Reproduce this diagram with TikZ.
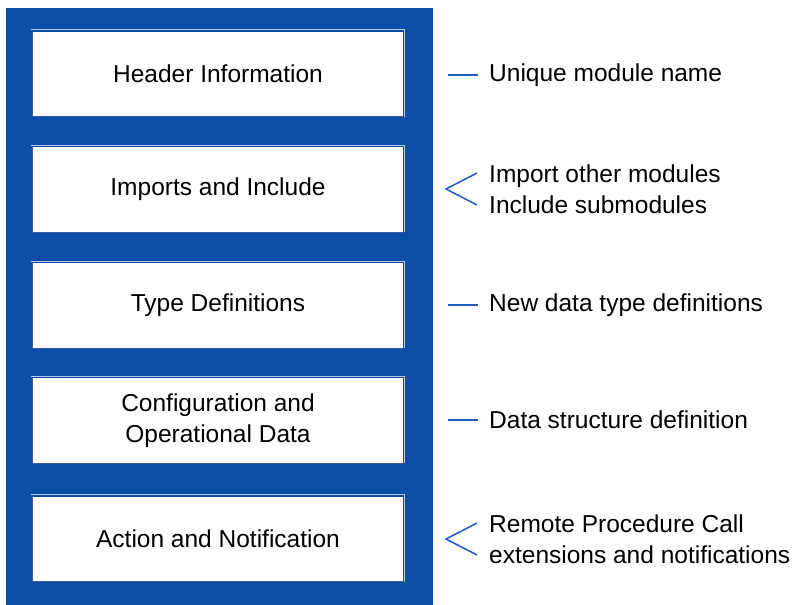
\documentclass[tikz,border=0pt]{standalone}
\usepackage{fontspec}
\setmainfont{Liberation Sans}
\definecolor{moduleblue}{HTML}{0B4EA8}
\definecolor{lightedge}{HTML}{B9C8E6}
\definecolor{darkedge}{HTML}{3B5C9F}
\definecolor{markblue}{HTML}{1E5EB8}
\tikzset{
  part/.style={fill=white, inner sep=0pt, minimum width=370pt, minimum height=85pt, align=center, font=\fontsize{24.5}{31}\selectfont},
  note/.style={anchor=west, align=left, inner sep=0pt, font=\fontsize{24.5}{31}\selectfont},
  notemark/.style={draw=markblue, line width=1.5pt},
}
\begin{document}
\begin{tikzpicture}[x=1pt,y=-1pt]
\useasboundingbox (0,0) rectangle (793,605);
% module frame
\fill[moduleblue] (6,8) rectangle (433,605);
% module parts
\foreach \t/\y [count=\n] in {Header Information/74, Imports and Include/189.5, Type Definitions/305.5, {Configuration and\\Operational Data}/420.5, Action and Notification/539} {
  \node[part] (part\n) at (218,\y) {\t};
  \draw[lightedge, line width=1pt] ([shift={(-1.5pt,1.5pt)}]part\n.north west) -- ([shift={(1.5pt,1.5pt)}]part\n.north east) -- ([xshift=1.5pt]part\n.south east);
  \draw[darkedge, line width=1.2pt] (part\n.north west) -- (part\n.south west) -- (part\n.south east);
}
% notes
\node[note] (name) at (489,75) {Unique module name};
\node[note] (imports) at (489,189) {Import other modules\\Include submodules};
\node[note] (types) at (489,305) {New data type definitions};
\node[note] (data) at (489,420) {Data structure definition};
\node[note] (rpc) at (489,539) {Remote Procedure Call\\extensions and notifications};
% dashes
\foreach \m in {name,types,data} {
  \draw[notemark] ([xshift=-41pt]\m.west) -- ([xshift=-11pt]\m.west);
}
% angles
\foreach \m in {imports,rpc} {
  \draw[notemark] ([shift={(-12pt,16pt)}]\m.west) -- ([xshift=-43pt]\m.west) -- ([shift={(-12pt,-16pt)}]\m.west);
}
\end{tikzpicture}
\end{document}
